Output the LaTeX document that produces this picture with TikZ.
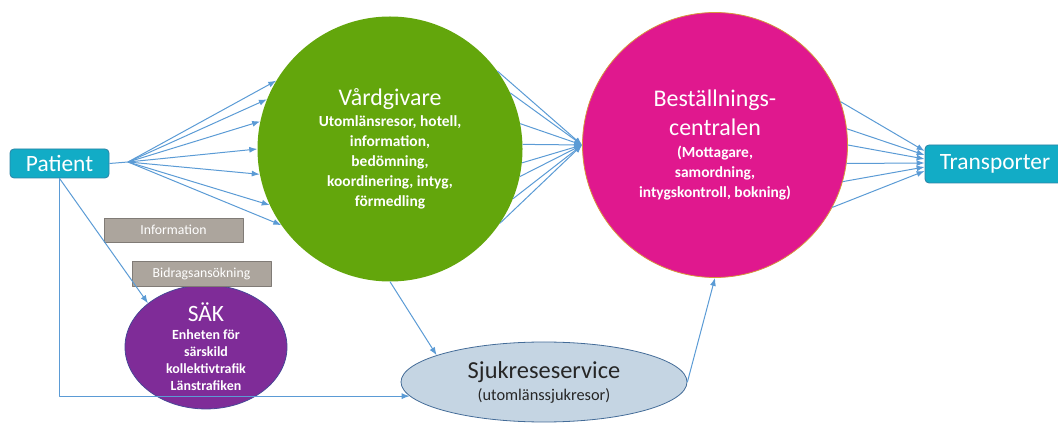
\documentclass[tikz,border=0pt]{standalone}
\usepackage{fontspec}
\setmainfont{Carlito}
\usetikzlibrary{shapes,arrows,arrows.meta,positioning,calc}
\definecolor{flowblue}{RGB}{91,155,213}
\definecolor{boxcyan}{RGB}{18,172,198}
\definecolor{boxcyanedge}{RGB}{44,130,165}
\definecolor{vardgreen}{RGB}{99,166,12}
\definecolor{bestpink}{RGB}{224,24,142}
\definecolor{bestedge}{RGB}{214,150,60}
\definecolor{saekpurple}{RGB}{127,44,152}
\definecolor{saekedge}{RGB}{72,70,150}
\definecolor{sjukblue}{RGB}{197,213,227}
\definecolor{sjukedge}{RGB}{68,108,152}
\definecolor{notegray}{RGB}{172,165,157}
\definecolor{notegrayedge}{RGB}{128,123,118}
\definecolor{textdark}{RGB}{38,38,38}

\begin{document}
\begin{tikzpicture}[>={Latex[length=8bp,width=6bp]},line join=bevel,
  flow/.style={->,draw=flowblue,line width=1bp},
  endbox/.style={draw=boxcyanedge,fill=boxcyan,rounded corners=4bp,line width=0.8bp,
    text=white,inner sep=0pt,font=\fontsize{23.5}{28}\selectfont},
  notebox/.style={draw=notegrayedge,fill=notegray,line width=0.8bp,text=white,
    inner sep=0pt,minimum width=139bp,font=\fontsize{13.8}{16}\selectfont},
  bigcircle/.style={circle,inner sep=0pt,minimum size=265bp,align=center,text=white,
    font=\bfseries\fontsize{15.5}{20}\selectfont},
  ]
\useasboundingbox (0bp,0bp) rectangle (1058bp,423bp);
%%
\node (patient) at (59.5bp,259.5bp) [endbox,minimum width=99bp,minimum height=29bp] {Patient};
  \node (trans) at (995bp,259bp) [endbox,minimum width=140bp,minimum height=38bp] {Transporter};
  \node (vard) at (390bp,274bp) [bigcircle,fill=vardgreen] {{\mdseries\fontsize{24}{24}\selectfont V\aa rdgivare}\\[1bp]
    Utoml\"ansresor, hotell,\\ information,\\ bed\"omning,\\ koordinering, intyg,\\ f\"ormedling};
  \node (best) at (715bp,278bp) [bigcircle,fill=bestpink,draw=bestedge,line width=0.8bp] {{\mdseries\fontsize{24}{24}\selectfont Best\"allnings-}\\[8bp]
    {\mdseries\fontsize{24}{24}\selectfont centralen}\\[2bp]
    (Mottagare,\\ samordning,\\ intygskontroll, bokning)};
  \node (saek) at (206bp,76bp) [ellipse,inner sep=0pt,minimum width=162bp,minimum height=106bp,
    fill=saekpurple,draw=saekedge,line width=0.8bp,align=center,text=white,
    font=\bfseries\fontsize{14}{17}\selectfont] {{\mdseries\fontsize{23.5}{24}\selectfont S\"AK}\\[1bp]
    Enheten f\"or\\ s\"arskild\\ kollektivtrafik\\ L\"anstrafiken};
  \node (sjuk) at (544bp,41bp) [ellipse,inner sep=0pt,minimum width=286bp,minimum height=80bp,
    fill=sjukblue,draw=sjukedge,line width=0.8bp,align=center,text=textdark,
    font=\fontsize{16.4}{20}\selectfont] {{\fontsize{24.5}{24}\selectfont Sjukreseservice}\\[2bp]
    (utoml\"anssjukresor)};
  \node (info) at (173.5bp,193bp) [notebox,minimum height=24bp] {Information};
  \node (bidrag) at (201.5bp,149.5bp) [notebox,minimum height=25bp] {Bidragsans\"okning};
  \coordinate (pfan) at (128bp,261bp);
%%
  \draw [flowblue,line width=1bp] (patient.east) -- (pfan);
  \draw [flow] (pfan) -- (vard.149);
  \draw [flow] (pfan) -- (vard.158);
  \draw [flow] (pfan) -- (vard.168);
  \draw [flow] (pfan) -- (vard.180);
  \draw [flow] (pfan) -- (vard.191);
  \draw [flow] (pfan) -- (vard.205);
  \draw [flow] (pfan) -- (vard.215);
  \draw [flow] (patient.south) -- (saek.143);
  \draw [flow] (patient.south) |- (sjuk.186);
  \draw [flow] (vard.south) -- (sjuk.166);
  \draw [flow] (sjuk.east) -- (best.south);
  \draw [flow] (vard.36) -- (best.west);
  \draw [flow] (vard.25) -- (best.west);
  \draw [flow] (vard.11) -- (best.west);
  \draw [flow] (vard.2) -- (best.west);
  \draw [flow] (vard.-6) -- (best.west);
  \draw [flow] (vard.-12) -- (best.west);
  \draw [flow] (vard.-22) -- (best.west);
  \draw [flow] (vard.-34) -- (best.west);
  \draw [flow] (best.19) -- ([yshift=13bp]trans.west);
  \draw [flow] (best.7) -- ([yshift=9bp]trans.west);
  \draw [flow] (best.0) -- ([yshift=5bp]trans.west);
  \draw [flow] (best.-8) -- ([yshift=1bp]trans.west);
  \draw [flow] (best.-16) -- ([yshift=-3bp]trans.west);
  \draw [flow] (best.-28) -- ([yshift=-7bp]trans.west);
%
\end{tikzpicture}
\end{document}
